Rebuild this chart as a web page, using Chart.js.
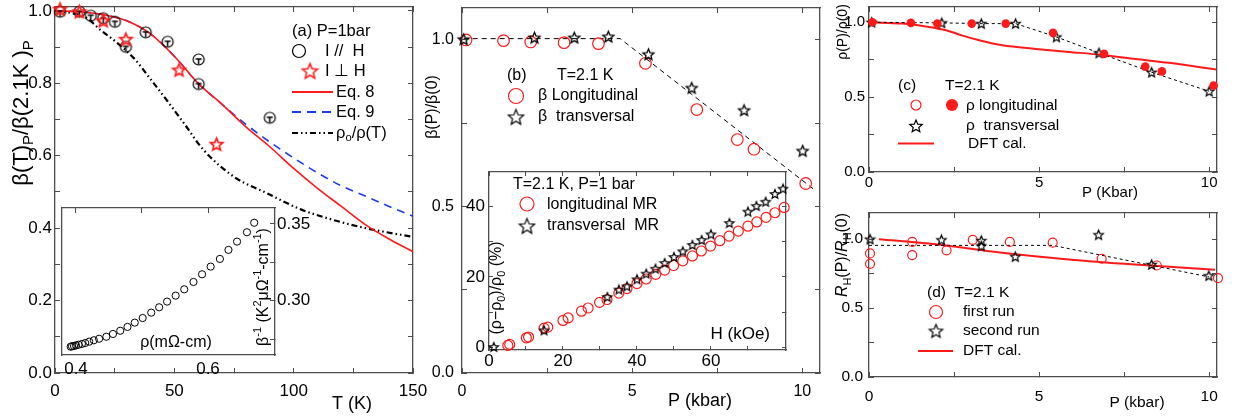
<!DOCTYPE html>
<html>
<head>
<meta charset="utf-8">
<script src="https://cdn.jsdelivr.net/npm/chart.js@4.4.0/dist/chart.umd.min.js"></script>
<style>
  body { margin: 0; background: #fff; width: 1235px; height: 418px; overflow: hidden; position: relative; }
  canvas.layer { position: absolute; left: 0; top: 0; }
</style>
</head>
<body>
<canvas id="chartA" class="layer" width="1235" height="418"></canvas>
<canvas id="chartAInset" class="layer" width="1235" height="418"></canvas>
<canvas id="chartB" class="layer" width="1235" height="418"></canvas>
<canvas id="chartBInset" class="layer" width="1235" height="418"></canvas>
<canvas id="chartC" class="layer" width="1235" height="418"></canvas>
<canvas id="chartD" class="layer" width="1235" height="418"></canvas>
<script>
// (a) beta(T)/beta(2.1K) at P = 1 bar
var tempParallel = [2.1, 10.2, 15, 20.2, 25.1, 29.7, 38, 47.2, 60.2, 60.2, 90];
var betaParallel = [0.998, 0.998, 0.987, 0.98, 0.97, 0.901, 0.941, 0.915, 0.866, 0.798, 0.705];
var tempPerp = [2.1, 10.2, 20.2, 29.7, 52, 67.7];
var betaPerp = [1.005, 0.998, 0.973, 0.922, 0.837, 0.632];
var tempModel = [0, 10, 20, 30, 40, 50, 60, 70, 80, 90, 100, 110, 120, 130, 140, 150];
var betaEq8 = [1, 0.998, 0.99, 0.973, 0.937, 0.875, 0.8, 0.742, 0.68, 0.625, 0.565, 0.51, 0.46, 0.41, 0.37, 0.335];
var betaEq9 = [1, 0.998, 0.99, 0.973, 0.937, 0.875, 0.8, 0.742, 0.687, 0.638, 0.594, 0.553, 0.517, 0.489, 0.46, 0.433];
var tempRatio = [0, 7, 13, 19, 26, 33, 40, 47, 54, 62, 75, 89, 103, 117, 131, 150];
var rhoRatio = [1, 0.994, 0.982, 0.948, 0.912, 0.87, 0.812, 0.752, 0.69, 0.618, 0.542, 0.496, 0.452, 0.422, 0.399, 0.376];
var tempTicks = [0, 25, 50, 75, 100, 125, 150];
var tempLabels = ['0', '', '50', '', '100', '', '150'];
var betaTTicks = [0, 0.1, 0.2, 0.3, 0.4, 0.5, 0.6, 0.7, 0.8, 0.9, 1.0];
var betaTLabels = ['0.0', '', '0.2', '', '0.4', '', '0.6', '', '0.8', '', '1.0'];

// (a) inset: 1/beta against resistivity
var rhoInset = [0.392, 0.394, 0.397, 0.4, 0.404, 0.409, 0.414, 0.42, 0.427, 0.435, 0.446, 0.456, 0.467, 0.478, 0.489,
                0.501, 0.514, 0.526, 0.538, 0.551, 0.564, 0.578, 0.591, 0.604, 0.618, 0.631, 0.644, 0.659, 0.67];
var invBetaInset = [0.27, 0.2703, 0.2705, 0.2709, 0.2713, 0.2718, 0.2724, 0.2733, 0.2742, 0.2752, 0.2765, 0.2783, 0.2804, 0.2829, 0.2857,
                    0.2887, 0.2922, 0.2957, 0.2994, 0.3033, 0.3074, 0.3122, 0.3172, 0.3222, 0.3272, 0.3331, 0.3385, 0.3446, 0.3508];
var rhoInsetTicks = [0.4, 0.6];
var rhoInsetLabels = ['0.4', '0.6'];
var rhoInsetTopTicks = [0.4, 0.5, 0.6];
var invBetaTicks = [0.275, 0.3, 0.325, 0.35];
var invBetaLabels = ['', '0.30', '', '0.35'];

// (b) beta(P)/beta(0) at T = 2.1 K
var pressLong = [0.12, 1.22, 2.02, 3.0, 4.01, 5.39, 6.9, 8.09, 8.58, 10.1];
var betaLong = [1.0, 0.998, 0.994, 0.992, 0.989, 0.93, 0.791, 0.701, 0.672, 0.569];
var pressTrans = [0.05, 2.13, 3.3, 4.3, 5.48, 6.75, 8.29, 10.01];
var betaTrans = [1.002, 1.007, 1.007, 1.01, 0.957, 0.856, 0.789, 0.667];
var pressGuideB = [0.05, 4.65, 10.32];
var betaGuideB = [1.004, 1.004, 0.553];
var pressTicks = [0, 2.5, 5, 7.5, 10];
var pressLabels = ['0', '', '5', '', '10'];
var ratioTicks = [0, 0.25, 0.5, 0.75, 1.0];
var ratioLabels = ['0.0', '', '0.5', '', '1.0'];

// (b) inset: magnetoresistance, T = 2.1 K, P = 1 bar
var fieldLong = [5.1, 5.6, 10.1, 10.7, 14.9, 15.9, 20.0, 21.4, 25.0, 26.8, 29.9, 31.9, 35.1, 37.3, 40.0, 42.5, 45.1,
                 47.5, 49.9, 52.4, 55.0, 57.4, 59.9, 62.4, 64.9, 67.4, 70.0, 72.4, 74.9, 77.3, 79.8];
var mrLong = [0.65, 0.93, 2.8, 3.0, 5.5, 5.8, 7.7, 8.4, 10.3, 11.2, 12.8, 13.6, 15.4, 16.7, 18.1, 19.4, 20.7,
              21.9, 23.2, 24.5, 25.9, 27.3, 28.7, 30.2, 31.5, 32.9, 34.3, 35.5, 36.8, 38.1, 39.6];
var fieldTrans = [1.3, 14.9, 32.0, 35.1, 37.3, 40.0, 42.5, 45.0, 47.5, 50.0, 52.4, 55.0, 57.5, 60.0, 65.0, 70.0, 72.3, 74.8, 77.3, 79.5];
var mrTrans = [0.2, 4.9, 14.3, 16.4, 17.3, 19.3, 20.9, 22.3, 23.9, 25.6, 27.2, 29.0, 30.4, 32.0, 35.2, 38.4, 40.0, 41.2, 43.4, 44.9];
var fieldTicks = [0, 10, 20, 30, 40, 50, 60, 70];
var fieldLabels = ['0', '', '20', '', '40', '', '60', ''];
var mrTicks = [0, 10, 20, 30, 40];
var mrLabels = ['0', '', '20', '', '40'];

// (c) rho(P)/rho(0)
var pressRhoLong = [0.1, 1.23, 2.01, 3.02, 4.02, 5.41, 6.91, 8.12, 8.61, 10.13];
var rhoLong = [1.0, 0.996, 0.991, 0.991, 0.991, 0.929, 0.789, 0.704, 0.672, 0.577];
var pressRhoTrans = [0.08, 2.14, 3.3, 4.31, 5.51, 6.76, 8.31, 10.0];
var rhoTrans = [1.0, 0.996, 0.991, 0.991, 0.902, 0.795, 0.666, 0.539];
var pressDftC = [0.05, 0.98, 1.76, 2.26, 2.75, 3.24, 3.92, 4.9, 5.88, 6.86, 7.84, 8.82, 10.2];
var rhoDft = [1.0, 0.991, 0.969, 0.947, 0.911, 0.88, 0.846, 0.822, 0.802, 0.782, 0.755, 0.729, 0.684];

// (d) R_H(P)/R_H(0)
var pressRun1 = [0.03, 0.03, 1.27, 1.27, 2.28, 3.05, 4.14, 5.4, 6.84, 8.46, 10.26];
var hallRun1 = [0.897, 0.821, 0.98, 0.885, 0.919, 0.995, 0.98, 0.975, 0.858, 0.809, 0.718];
var pressRun2 = [0.03, 2.13, 3.3, 3.3, 4.3, 6.75, 8.31, 9.99];
var hallRun2 = [1.0, 0.995, 0.99, 0.951, 0.873, 1.032, 0.816, 0.735];
var pressGuideD = [0, 5.4, 10.0];
var hallGuideD = [0.955, 0.955, 0.726];
var pressDftD = [0.29, 1.96, 3.91, 5.87, 7.82, 10.17];
var hallDft = [1.0, 0.963, 0.902, 0.853, 0.816, 0.779];

var PAGE_W = 1235, PAGE_H = 418;
var FRAME = '#4d4d4d';
var FONT = '"Liberation Sans", Arial, sans-serif';
var RED = '#ff1a1a';
var BLUE = '#1f3de6';

function pts(xs, ys) {
  return xs.map(function(x, i) { return {x: x, y: ys[i]}; });
}

// point style images
function starImage(r, color, lw) {
  var c = document.createElement('canvas');
  var s = Math.ceil(2 * r + 2 * lw + 2);
  c.width = c.height = s;
  var g = c.getContext('2d');
  g.translate(s / 2, s / 2 + r * 0.08);
  g.beginPath();
  for (var i = 0; i < 10; i++) {
    var rad = i % 2 ? r * 0.45 : r;
    var a = -Math.PI / 2 + i * Math.PI / 5;
    g.lineTo(rad * Math.cos(a), rad * Math.sin(a));
  }
  g.closePath();
  g.strokeStyle = color;
  g.lineWidth = lw;
  g.stroke();
  return c;
}

function barCircleImage(r) {
  var c = document.createElement('canvas');
  var s = Math.ceil(2 * r + 4);
  c.width = c.height = s;
  var g = c.getContext('2d');
  g.translate(s / 2, s / 2);
  g.strokeStyle = '#000';
  g.lineWidth = 1.2;
  g.beginPath();
  g.arc(0, 0, r, 0, Math.PI * 2);
  g.stroke();
  g.lineWidth = 1.5;
  g.beginPath();
  g.moveTo(-r * 0.55, -r * 0.1);
  g.lineTo(r * 0.55, -r * 0.1);
  g.moveTo(0, -r * 0.1);
  g.lineTo(0, r * 0.9);
  g.stroke();
  return c;
}

// box: space reserved for the axis outside the frame (labels are clipped to it)
function axis(pos, min, max, ticks, labels, opt) {
  opt = opt || {};
  var showLabels = !!(labels && labels.length);
  var box = showLabels ? (pos === 'left' || pos === 'right' ? 50 : 32) : 0;
  return {
    type: 'linear', position: pos, min: min, max: max, box: box,
    afterBuildTicks: function(s) { s.ticks = ticks.map(function(v) { return {value: v}; }); },
    afterFit: function(s) {
      if (s.isHorizontal()) s.height = box; else s.width = box;
      s.paddingLeft = s.paddingRight = s.paddingTop = s.paddingBottom = 0;
    },
    border: {display: true, color: FRAME, width: 1.3},
    grid: {display: true, drawOnChartArea: false, drawTicks: !opt.noTicks, tickLength: opt.tl || -5, tickColor: FRAME, tickWidth: 1},
    ticks: {
      display: showLabels, padding: opt.pad || 8, color: '#000', autoSkip: false, maxRotation: 0,
      font: {family: FONT, size: opt.size || 16},
      callback: function(v, i) { return showLabels ? labels[i] : ''; }
    }
  };
}

function richText(ctx, parts, x, y, size, rot, align) {
  ctx.save();
  ctx.translate(x, y);
  ctx.rotate(rot || 0);
  ctx.textBaseline = 'middle';
  ctx.fillStyle = '#000';
  var fontOf = function(p) {
    var small = p[1] === 'sub' || p[1] === 'sup';
    return (p[1] === 'italic' ? 'italic ' : '') + (small ? size * 0.68 : size) + 'px ' + FONT;
  };
  var widths = parts.map(function(p) { ctx.font = fontOf(p); return ctx.measureText(p[0]).width; });
  var total = widths.reduce(function(a, b) { return a + b; }, 0);
  var cx = align === 'left' ? 0 : (align === 'right' ? -total : -total / 2);
  parts.forEach(function(p, i) {
    ctx.font = fontOf(p);
    var dy = p[1] === 'sub' ? size * 0.32 : (p[1] === 'sup' ? -size * 0.38 : 0);
    ctx.fillText(p[0], cx, dy);
    cx += widths[i];
  });
  ctx.restore();
}

function text(ctx, str, x, y, size, align) {
  richText(ctx, [[str, '']], x, y, size, 0, align || 'left');
}

function circle(ctx, x, y, r, color, filled, lw) {
  ctx.save();
  ctx.beginPath();
  ctx.arc(x, y, r, 0, Math.PI * 2);
  if (filled) { ctx.fillStyle = color; ctx.fill(); }
  else { ctx.strokeStyle = color; ctx.lineWidth = lw || 1.2; ctx.stroke(); }
  ctx.restore();
}

function image(ctx, img, x, y) {
  ctx.drawImage(img, x - img.width / 2, y - img.height / 2);
}

function segment(ctx, x1, x2, y, color, lw, dash) {
  ctx.save();
  ctx.strokeStyle = color;
  ctx.lineWidth = lw;
  ctx.setLineDash(dash || []);
  ctx.beginPath();
  ctx.moveTo(x1, y);
  ctx.lineTo(x2, y);
  ctx.stroke();
  ctx.restore();
}

// rect = frame of the plot area [left, top, right, bottom] in page pixels
function frameChart(id, rect, scales, datasets, decorate) {
  return new Chart(document.getElementById(id), {
    type: 'scatter',
    data: {datasets: datasets},
    options: {
      responsive: false, animation: false, devicePixelRatio: 1,
      layout: {autoPadding: false, padding: {
        left: rect[0] - scales.y.box, top: rect[1] - scales.x2.box,
        right: PAGE_W - rect[2] - scales.y2.box, bottom: PAGE_H - rect[3] - scales.x.box
      }},
      plugins: {legend: {display: false}, tooltip: {enabled: false}},
      scales: scales
    },
    plugins: [{id: 'decor', afterDraw: function(chart) { decorate(chart.ctx); }}]
  });
}

function curve(data, color, lw, dash, straight) {
  return {data: data, showLine: true, borderColor: color, borderWidth: lw, borderDash: dash || [],
          pointRadius: 0, clip: false, tension: 0,
          cubicInterpolationMode: straight ? 'default' : 'monotone'};
}

function marks(data, style, extra) {
  var ds = {data: data, showLine: false, clip: false, pointStyle: style, pointRadius: 5};
  for (var k in extra) ds[k] = extra[k];
  return ds;
}

var barCircle = barCircleImage(5.5);
var redStar = starImage(6.5, RED, 1.7);
var redStarKey = starImage(8, RED, 1.5);
var blackStar = starImage(5.8, '#000', 1.3);
var blackStarKey = starImage(8, '#000', 1.2);
var insetStar = starImage(4.8, '#000', 1.2);
var smallStar = starImage(5, '#000', 1.2);
var DASH_DOT = [6, 3, 1.5, 3, 1.5, 3];

// panel (a)
frameChart('chartA', [55, 7, 413, 373], {
  x: axis('bottom', 0, 150, tempTicks, tempLabels, {pad: 13, size: 17}),
  x2: axis('top', 0, 150, tempTicks, null),
  y: axis('left', 0, 1.011, betaTTicks, betaTLabels, {pad: 8, size: 17}),
  y2: axis('right', 0, 1.011, betaTTicks, null)
}, [
  marks(pts(tempPerp, betaPerp), redStar),
  marks(pts(tempParallel, betaParallel), barCircle),
  curve(pts(tempModel, betaEq8), RED, 1.6),
  curve(pts(tempModel, betaEq9), BLUE, 1.6, [8, 6]),
  curve(pts(tempRatio, rhoRatio), '#000', 2.2, DASH_DOT)
], function(ctx) {
  richText(ctx, [['β(T)', ''], ['P', 'sub'], ['/β(2.1K )', ''], ['P', 'sub']], 22, 113, 22, -Math.PI / 2);
  text(ctx, 'T (K)', 352, 404, 18, 'center');
  text(ctx, '(a) P=1bar', 292, 31, 16.5);
  circle(ctx, 299, 51, 6.5, '#000', false, 1.2);
  text(ctx, 'I //  H', 325, 51, 16.5);
  image(ctx, redStarKey, 310, 71);
  text(ctx, 'I ⊥ H', 325, 71, 16.5);
  segment(ctx, 292, 333, 92, RED, 1.8);
  text(ctx, 'Eq. 8', 336, 92, 16.5);
  segment(ctx, 292, 333, 112, BLUE, 1.8, [9, 6]);
  text(ctx, 'Eq. 9', 336, 112, 16.5);
  segment(ctx, 292, 333, 133, '#000', 2.2, DASH_DOT);
  richText(ctx, [['ρ', ''], ['o', 'sub'], ['/ρ(T)', '']], 336, 133, 16.5, 0, 'left');
});

// panel (a) inset
frameChart('chartAInset', [62, 208, 275, 355], {
  x: axis('bottom', 0.3788, 0.7015, rhoInsetTicks, rhoInsetLabels, {noTicks: true, pad: 4, size: 17}),
  x2: axis('top', 0.3788, 0.7015, rhoInsetTopTicks, null),
  y: axis('left', 0.2646, 0.3604, [], null, {noTicks: true}),
  y2: axis('right', 0.2646, 0.3604, invBetaTicks, invBetaLabels, {pad: 7, size: 17})
}, [
  marks(pts(rhoInset, invBetaInset), 'circle', {pointRadius: 3.6, borderColor: '#000', borderWidth: 1, backgroundColor: 'rgba(0,0,0,0)'})
], function(ctx) {
  text(ctx, 'ρ(mΩ-cm)', 176, 343, 16, 'center');
  richText(ctx, [['β', ''], ['-1', 'sup'], [' (K', ''], ['2', 'sup'], ['μΩ', ''], ['-1', 'sup'], ['-cm', ''], ['-1', 'sup'], [')', '']],
           264, 287, 16, -Math.PI / 2);
});

// panel (b)
frameChart('chartB', [462, 8, 820, 373], {
  x: axis('bottom', 0, 10.52, pressTicks, pressLabels, {pad: 14, size: 16}),
  x2: axis('top', 0, 10.52, pressTicks, null),
  y: axis('left', 0, 1.096, ratioTicks, ratioLabels, {pad: 13, size: 16}),
  y2: axis('right', 0, 1.096, ratioTicks, null)
}, [
  marks(pts(pressTrans, betaTrans), blackStar),
  marks(pts(pressLong, betaLong), 'circle', {pointRadius: 5.8, borderColor: RED, borderWidth: 1.2, backgroundColor: 'rgba(0,0,0,0)'}),
  curve(pts(pressGuideB, betaGuideB), '#000', 1, [5, 4], true)
], function(ctx) {
  richText(ctx, [['β(P)/β(0)', '']], 433, 107, 16, -Math.PI / 2);
  text(ctx, 'P (kbar)', 700, 401, 18, 'center');
  text(ctx, '(b)', 507, 76, 16);
  text(ctx, 'T=2.1 K', 557, 76, 16);
  circle(ctx, 516, 96, 7.5, RED, false, 1.2);
  text(ctx, 'β Longitudinal', 538, 96, 16);
  image(ctx, blackStarKey, 516, 117);
  text(ctx, 'β  transversal', 538, 117, 16);
});

// panel (b) inset
frameChart('chartBInset', [489, 172, 786, 350], {
  x: axis('bottom', 0, 80.3, fieldTicks, fieldLabels, {pad: 5, size: 17, tl: -4}),
  x2: axis('top', 0, 80.3, fieldTicks, null, {tl: -4}),
  y: axis('left', -0.65, 49.6, mrTicks, mrLabels, {pad: 8, size: 17, tl: -4}),
  y2: axis('right', -0.65, 49.6, mrTicks, null, {tl: -4})
}, [
  marks(pts(fieldTrans, mrTrans), insetStar),
  marks(pts(fieldLong, mrLong), 'circle', {pointRadius: 5, borderColor: RED, borderWidth: 1.2, backgroundColor: 'rgba(0,0,0,0)'})
], function(ctx) {
  text(ctx, 'T=2.1 K, P=1 bar', 513, 185, 16);
  circle(ctx, 527, 204, 7, RED, false, 1.2);
  text(ctx, 'longitudinal MR', 547, 205, 16);
  image(ctx, blackStarKey, 527, 226);
  text(ctx, 'transversal  MR', 547, 226, 16);
  richText(ctx, [['(ρ−ρ', ''], ['0', 'sub'], [')/ρ', ''], ['0', 'sub'], [' (%)', '']], 497, 288, 16, -Math.PI / 2);
  text(ctx, 'H (kOe)', 770, 334, 17, 'right');
});

// panel (c)
frameChart('chartC', [869, 7, 1217, 172], {
  x: axis('bottom', 0, 10.23, pressTicks, pressLabels, {pad: 7, size: 15}),
  x2: axis('top', 0, 10.23, pressTicks, null),
  y: axis('left', 0, 1.102, ratioTicks, ratioLabels, {pad: 9, size: 15}),
  y2: axis('right', 0, 1.102, ratioTicks, null)
}, [
  marks(pts(pressRhoLong, rhoLong), 'circle', {pointRadius: 4.3, borderColor: RED, borderWidth: 0, backgroundColor: RED}),
  marks(pts(pressRhoTrans, rhoTrans), smallStar, {showLine: true, borderColor: '#000', borderWidth: 1, borderDash: [3, 3]}),
  curve(pts(pressDftC, rhoDft), RED, 2)
], function(ctx) {
  richText(ctx, [['ρ(P)/ρ(0)', '']], 843, 32, 14, -Math.PI / 2);
  text(ctx, 'P (Kbar)', 1110, 193, 15, 'center');
  text(ctx, '(c)', 898, 86, 15.5);
  text(ctx, 'T=2.1 K', 945, 86, 15.5);
  circle(ctx, 916, 105, 5, RED, false, 1.2);
  circle(ctx, 952, 105, 6, RED, true);
  text(ctx, 'ρ longitudinal', 966, 106, 15.5);
  image(ctx, starImage(6.5, '#000', 1.2), 916, 126);
  text(ctx, 'ρ  transversal', 966, 126, 15.5);
  segment(ctx, 898, 934, 143.5, RED, 2);
  text(ctx, 'DFT cal.', 968, 144, 15.5);
});

// panel (d)
frameChart('chartD', [869, 213, 1217, 377], {
  x: axis('bottom', 0, 10.23, pressTicks, pressLabels, {pad: 15, size: 15.5}),
  x2: axis('top', 0, 10.23, pressTicks, null),
  y: axis('left', 0, 1.19, ratioTicks, ratioLabels, {pad: 11, size: 15.5}),
  y2: axis('right', 0, 1.19, ratioTicks, null)
}, [
  marks(pts(pressRun2, hallRun2), smallStar),
  marks(pts(pressRun1, hallRun1), 'circle', {pointRadius: 4.5, borderColor: RED, borderWidth: 1.2, backgroundColor: 'rgba(0,0,0,0)'}),
  curve(pts(pressGuideD, hallGuideD), '#000', 1, [3, 3], true),
  curve(pts(pressDftD, hallDft), RED, 2)
], function(ctx) {
  richText(ctx, [['R', 'italic'], ['H', 'sub'], ['(P)/', ''], ['R', 'italic'], ['H', 'sub'], ['(0)', '']], 843, 255, 16, -Math.PI / 2);
  text(ctx, 'P (kbar)', 1137, 403, 15.5, 'center');
  text(ctx, '(d)  T=2.1 K', 927, 293, 15.5);
  circle(ctx, 936, 312, 6.5, RED, false, 1.2);
  text(ctx, 'first run', 963, 312, 15.5);
  image(ctx, starImage(7, '#000', 1.2), 936, 331);
  text(ctx, 'second run', 963, 331, 15.5);
  segment(ctx, 918, 953, 351, RED, 2);
  text(ctx, 'DFT cal.', 963, 351, 15.5);
});
</script>
</body>
</html>
